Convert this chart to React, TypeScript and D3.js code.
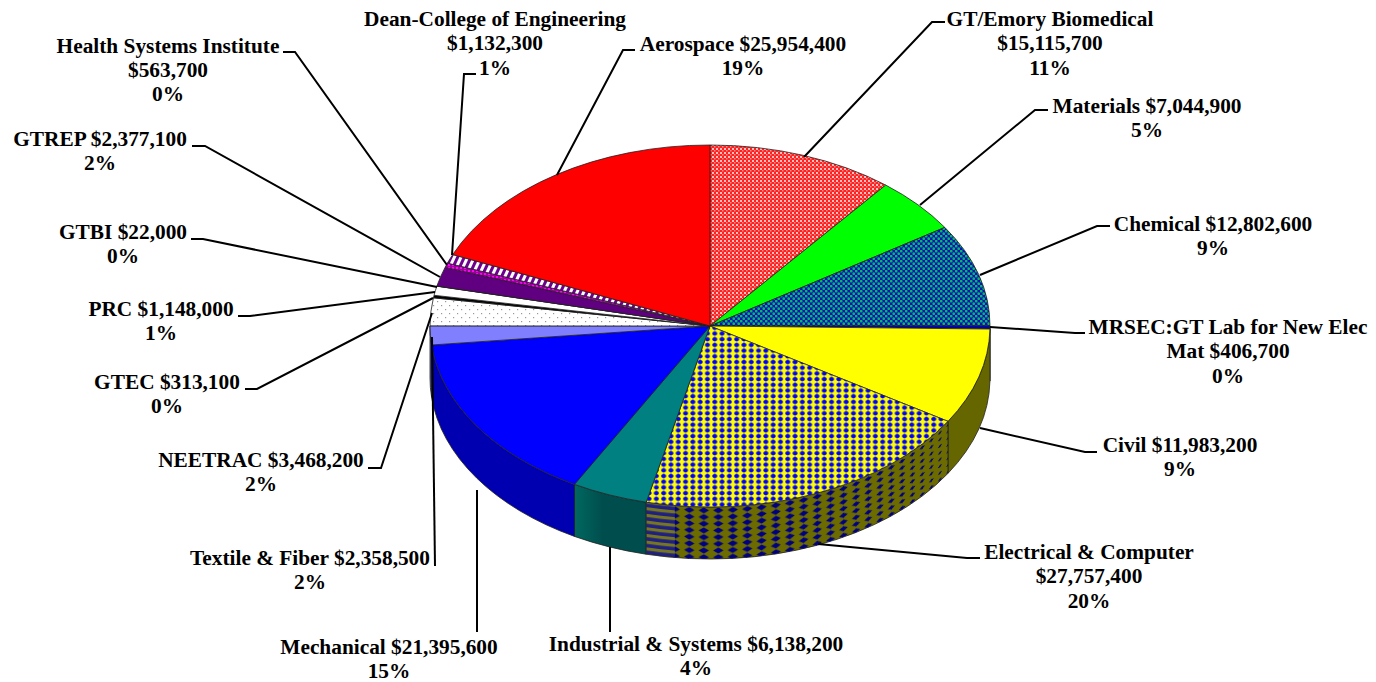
import React from "react";
import * as d3 from "d3";

const names = ["GT/Emory Biomedical","Materials","Chemical","MRSEC:GT Lab for New Elec Mat","Civil","Electrical & Computer","Industrial & Systems","Mechanical","Textile & Fiber","NEETRAC","GTEC","PRC","GTBI","GTREP","Health Systems Institute","Dean-College of Engineering","Aerospace"];
const amounts = [15115700,7044900,12802600,406700,11983200,27757400,6138200,21395600,2358500,3468200,313100,1148000,22000,2377100,563700,1132300,25954400];
const topFills = ["url(#pRed)","#00ff00","url(#pChem)","#0000b0","#ffff00","url(#pElec)","#008080","#0000ff","#8080ff","url(#pNeet)","#000000","#ffffff","#800080","#600080","url(#pHsi)","url(#pDean)","#ff0000"];
const wallFills = ["#800000","#008000","#000080","#000066","#666600","#666600","url(#wTeal)","#0000b0","#5050b0","#808080","#000","#999","#400040","#300040","#400040","#400040","#800000"];

const labelLines = [
  ["GT/Emory Biomedical","$15,115,700","11%"],["Materials $7,044,900","5%"],["Chemical $12,802,600","9%"],
  ["MRSEC:GT Lab for New Elec","Mat $406,700","0%"],["Civil $11,983,200","9%"],["Electrical & Computer","$27,757,400","20%"],
  ["Industrial & Systems $6,138,200","4%"],["Mechanical $21,395,600","15%"],["Textile & Fiber $2,358,500","2%"],
  ["NEETRAC $3,468,200","2%"],["GTEC $313,100","0%"],["PRC $1,148,000","1%"],["GTBI $22,000","0%"],["GTREP $2,377,100","2%"],
  ["Health Systems Institute","$563,700","0%"],["Dean-College of Engineering","$1,132,300","1%"],["Aerospace $25,954,400","19%"],
];
const labelPos: [number, number][] = [[1050,26],[1147,113],[1213,231],[1228,334],[1180,452],[1089,559],[696,651],[389,653.5],[310,565],[261,467],[167,389],[161,316],[123,239],[100,146],[168,52.5],[495,26],[743,51]];
const leaders: [number, number][][] = [
  [[945,22],[932,22],[804,157]],[[1048,110],[1035,110],[920,205]],[[1110,226],[1097,226],[980,275]],
  [[1085,333],[1075,333],[990,327]],[[1097,452],[1085,452],[980,428]],[[980,558],[967,558],[818,544]],
  [[610,632],[610,547]],[[477,632],[477,490]],[[435,566],[432,337]],[[368,468],[381,468],[432,313]],
  [[245,389],[257,389],[433,298]],[[238,316],[250,316],[435,292]],[[191,239],[203,239],[437,287]],
  [[192,146],[205,146],[440,277]],[[283,52],[295,52],[447,265]],[[476,74],[464,74],[452,255]],[[635,50],[623,50],[557,175]],
];

const cx = 710, cy = 326, rx = 280, ry = 181, depth = 52;
const pt = (a: number, dy = 0) => [cx + rx * Math.sin(a), cy - ry * Math.cos(a) + dy];
const fmt = (p: number[]) => `${p[0].toFixed(2)},${p[1].toFixed(2)}`;
const slicePath = (a0: number, a1: number) => {
  const large = a1 - a0 > Math.PI ? 1 : 0;
  return `M${cx},${cy}L${fmt(pt(a0))}A${rx},${ry} 0 ${large} 1 ${fmt(pt(a1))}Z`;
};
const wallPath = (a0: number, a1: number) =>
  `M${fmt(pt(a0))}A${rx},${ry} 0 0 1 ${fmt(pt(a1))}L${fmt(pt(a1, depth))}A${rx},${ry} 0 0 0 ${fmt(pt(a0, depth))}Z`;

const arcs = d3.pie<number>().sort(null).value((d) => d)(amounts);
const PI = Math.PI;
const elecIdx = names.indexOf("Electrical & Computer");
const elecSteps = d3.range(0, 24);
const stripeSteps = 2;

export default function App() {
  const e = arcs[elecIdx];
  const stepA = (e.endAngle - e.startAngle) / elecSteps.length;
  return (
    <svg width={1376} height={682} style={{ position: "absolute", left: 0, top: 0, background: "#fff" }}>
      <defs>
        <pattern id="pRed" width={4} height={4} patternUnits="userSpaceOnUse">
          <rect width={4} height={4} fill="#ff2020" />
          <rect x={0} y={0} width={2} height={2} fill="#ffc0c0" />
          <rect x={2} y={2} width={1.5} height={1.5} fill="#ff9090" />
        </pattern>
        <pattern id="pChem" width={5} height={5} patternUnits="userSpaceOnUse">
          <rect width={5} height={5} fill="#0808d8" />
          <circle cx={1.2} cy={1.2} r={1.4} fill="#08c048" />
          <circle cx={3.7} cy={3.7} r={1.4} fill="#08c048" />
        </pattern>
        <pattern id="pElec" width={7.3} height={5.7} patternUnits="userSpaceOnUse" x={3}>
          <rect width={7.3} height={5.7} fill="#ffff00" />
          <rect x={3.2} y={0} width={0.9} height={5.7} fill="#6060a8" />
          <ellipse cx={3.65} cy={2.85} rx={2.5} ry={2} fill="#0000ff" />
        </pattern>
        <pattern id="pNeet" width={8} height={8} patternUnits="userSpaceOnUse">
          <rect width={8} height={8} fill="#fff" />
          <rect x={1} y={1} width={1.2} height={1.2} fill="#999" />
          <rect x={5} y={5} width={1.2} height={1.2} fill="#999" />
        </pattern>
        <pattern id="pHsi" width={4} height={3} patternUnits="userSpaceOnUse">
          <rect width={4} height={3} fill="#a000a0" />
          <rect x={0} y={0} width={2} height={2} fill="#ff00ff" />
        </pattern>
        <pattern id="pDean" width={6} height={6} patternUnits="userSpaceOnUse" patternTransform="rotate(25)">
          <rect width={6} height={6} fill="#fff" />
          <rect width={3} height={6} fill="#700090" />
        </pattern>
        <linearGradient id="wTeal" x1="0" x2="1" y1="0" y2="0">
          <stop offset="0" stopColor="#006860" />
          <stop offset="0.4" stopColor="#004d4d" />
          <stop offset="1" stopColor="#004d4d" />
        </linearGradient>
        {elecSteps.map((i) => {
          const mid = e.startAngle + (i + 0.5) * stepA;
          const dx = rx * Math.cos(mid), dy = ry * Math.sin(mid);
          const slope = Math.abs(dx) < 1e-6 ? 0 : dy / dx;
          const skew = (Math.atan(slope) * 180) / PI;
          const [xm, ym] = pt(mid);
          const stripes = i >= elecSteps.length - stripeSteps;
          return (
            <pattern key={i} id={`wE${i}`} width={14} height={6.7} patternUnits="userSpaceOnUse"
              patternTransform={`translate(${xm.toFixed(2)},${ym.toFixed(2)}) skewY(${skew.toFixed(2)})`}>
              <rect width={14} height={6.7} fill={stripes ? "#767620" : "#6b6b00"} />
              {stripes
                ? <rect y={1.2} width={14} height={3.6} fill="#202080" />
                : <path d="M2,3.35L7,0.4L12,3.35L7,6.3Z" fill="#000080" />}
            </pattern>
          );
        })}
      </defs>
      <g stroke="#222" strokeWidth={0.8}>
        {arcs.map((a, i) => {
          const a0 = Math.max(a.startAngle, PI / 2), a1 = Math.min(a.endAngle, (3 * PI) / 2);
          if (a1 <= a0 || i === elecIdx) return null;
          return <path key={names[i]} d={wallPath(a0, a1)} fill={wallFills[i]} />;
        })}
        {elecSteps.map((i) => (
          <path key={i} d={wallPath(e.startAngle + i * stepA, Math.min(e.endAngle, e.startAngle + (i + 1) * stepA + 0.006))} fill={`url(#wE${i})`} stroke="none" />
        ))}
        <path d={wallPath(e.startAngle, e.endAngle)} fill="none" />
        {arcs.map((a, i) => (
          <path key={names[i]} d={slicePath(a.startAngle, a.endAngle)} fill={topFills[i]} />
        ))}
      </g>
      <g fill="none" stroke="#000" strokeWidth={2}>
        {leaders.map((l, i) => (
          <path key={i} d={d3.line()(l) ?? ""} />
        ))}
      </g>
      <g fontFamily="'Liberation Serif', serif" fontWeight="bold" fontSize={21.33} textAnchor="middle" fill="#000">
        {labelLines.map((lines, i) => (
          <text key={names[i]} x={labelPos[i][0]} y={labelPos[i][1]}>
            {lines.map((s, j) => (
              <tspan key={j} x={labelPos[i][0]} dy={j === 0 ? 0 : 24.4}>{s}</tspan>
            ))}
          </text>
        ))}
      </g>
    </svg>
  );
}
